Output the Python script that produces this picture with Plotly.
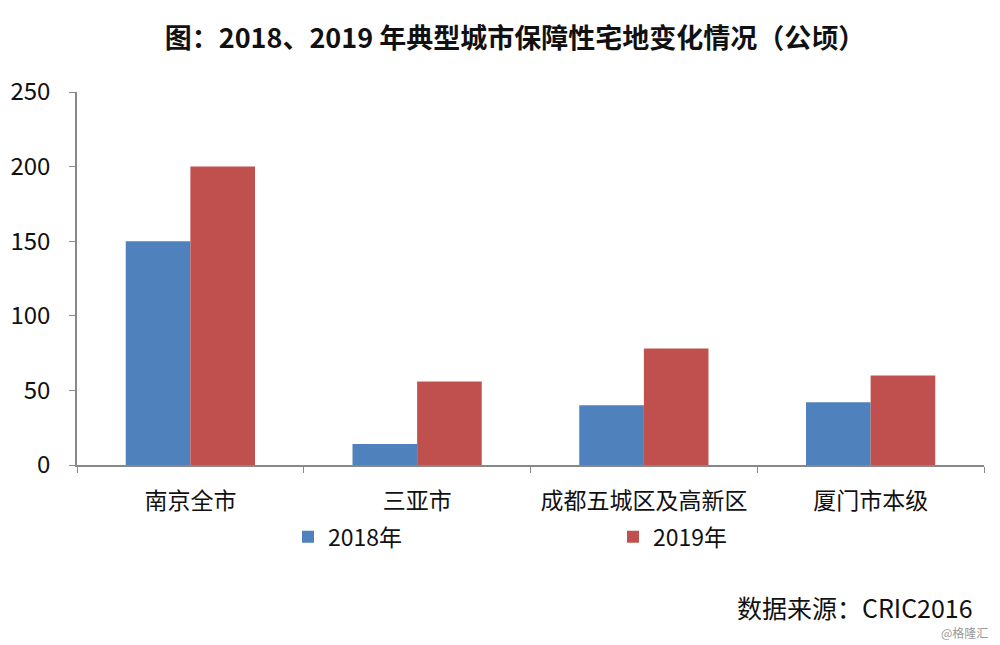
import plotly.graph_objects as go

categories = ["南京全市", "三亚市", "成都五城区及高新区", "厦门市本级"]
values_2018 = [150, 14, 40, 42]
values_2019 = [200, 56, 78, 60]
series_names = ["2018年", "2019年"]
y_ticks = [0, 50, 100, 150, 200, 250]

FONT = "Noto Sans CJK SC"

fig = go.Figure()
fig.add_trace(go.Bar(x=categories, y=values_2018, name=series_names[0], legend="legend",
                     marker=dict(color="#4F81BD", line=dict(width=0))))
fig.add_trace(go.Bar(x=categories, y=values_2019, name=series_names[1], legend="legend2",
                     marker=dict(color="#C0504D", line=dict(width=0))))

legend_common = dict(orientation="h", yref="container", y=0.180, yanchor="middle",
                     xref="container", xanchor="left",
                     font=dict(size=23, family=FONT, color="#111111"),
                     bgcolor="rgba(0,0,0,0)", itemwidth=30)

fig.update_layout(
    width=1000, height=645,
    paper_bgcolor="white", plot_bgcolor="white",
    margin=dict(l=69, r=24, t=84, b=188, autoexpand=False),
    barmode="group", bargap=0.43, bargroupgap=0,
    font=dict(family=FONT, color="#000000"),
    title=dict(text="<b>图：2018、2019 年典型城市保障性宅地变化情况（公顷）</b>",
               x=0.507, xanchor="center", yref="container", y=0.953, yanchor="middle",
               font=dict(size=27, family=FONT, color="#111111")),
    showlegend=True,
    legend=dict(legend_common, x=0.280),
    legend2=dict(legend_common, x=0.605),
    xaxis=dict(showline=True, linecolor="#888888", linewidth=1.5,
               ticks="outside", tickson="boundaries", ticklen=6, tickcolor="#888888",
               ticklabelstandoff=15,
               tickfont=dict(size=23, family=FONT, color="#111111"), showgrid=False),
    yaxis=dict(range=[0, 250], tickvals=y_ticks, showline=True, linecolor="#888888",
               linewidth=1.5, ticks="outside", ticklen=6, tickcolor="#888888",
               ticklabelstandoff=14,
               tickfont=dict(size=24, family=FONT, color="#111111"), showgrid=False, zeroline=False),
)

fig.add_annotation(text="数据来源：CRIC2016", xref="paper", yref="paper",
                   x=0.990, y=-0.381, xanchor="right", yanchor="middle", showarrow=False,
                   font=dict(size=25, family=FONT, color="#111111"))
fig.add_annotation(text="@格隆汇", xref="paper", yref="paper",
                   x=1.0066, y=-0.448, xanchor="right", yanchor="middle", showarrow=False,
                   font=dict(size=12, family=FONT, color="#999999"))

fig.write_html("out.html")
